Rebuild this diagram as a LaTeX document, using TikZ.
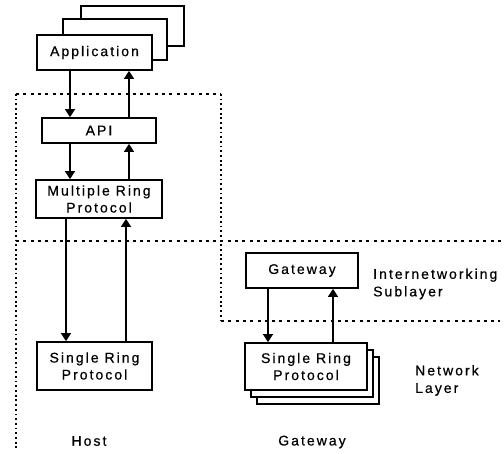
\documentclass[tikz,border=0pt]{standalone}
\usepackage{fontspec}
\setmainfont{Liberation Sans}[LetterSpace=14.5,FakeBold=0.6]
\usetikzlibrary{arrows.meta}
\begin{document}
\begin{tikzpicture}[x=1pt,y=-1pt,
  box/.style={draw, line width=1.7pt, fill=white, inner sep=0pt, align=center,
    font=\fontsize{14}{17}\selectfont},
  lbl/.style={inner sep=0pt, align=left, anchor=west, font=\fontsize{14}{17.5}\selectfont},
  clbl/.style={inner sep=0pt, font=\fontsize{14}{17}\selectfont},
  arr/.style={line width=1.3pt, -{Triangle[width=10pt,length=8pt]}},
  dsh/.style={line width=1.7pt, dash pattern=on 3pt off 4.3pt},
  dts/.style={line width=1.9pt, dash pattern=on 1.8pt off 2.9pt}]
\useasboundingbox (0,0) rectangle (504,454);
% region lines
\coordinate (tl) at (16,94);
\coordinate (tr) at (221,94);
\coordinate (bl) at (16,450);
\coordinate (ml) at (16,241);
\coordinate (mr) at (502,241);
\coordinate (lr) at (221,321);
\coordinate (le) at (500,321);
\draw[dsh] (tl) -- (tr);
\draw[dts] (tl) -- (bl);
\draw[dts] (tr) -- (lr);
\draw[dsh] (ml) -- (mr);
\draw[dsh] (lr) -- (le);
% host stack
\node[box, minimum width=103pt, minimum height=40pt] (app3) at (132.5,26) {};
\node[box, minimum width=104pt, minimum height=41pt] (app2) at (115,39.5) {};
\node[box, minimum width=115pt, minimum height=35pt] (app) at (94.5,52.5) {Application};
\node[box, minimum width=114pt, minimum height=25pt] (api) at (99,130.5) {API};
\node[box, minimum width=126pt, minimum height=38pt] (mrp) at (99,199) {Multiple Ring\\Protocol};
\node[box, minimum width=115pt, minimum height=48pt] (srph) at (94.5,366) {Single Ring\\Protocol};
% gateway stack
\node[box, minimum width=112pt, minimum height=35pt] (gw) at (302,270.5) {Gateway};
\node[box, minimum width=122pt, minimum height=47pt] (srpg3) at (318,380.5) {};
\node[box, minimum width=122pt, minimum height=47pt] (srpg2) at (312,373.5) {};
\node[box, minimum width=122pt, minimum height=47pt] (srpg) at (306,366.5) {Single Ring\\Protocol};
% arrow columns
\coordinate (d1) at (70,0);
\coordinate (u1) at (129,0);
\coordinate (d2) at (66,0);
\coordinate (u2) at (126,0);
\coordinate (d3) at (268,0);
\coordinate (u3) at (333,0);
\draw[arr] (app.south -| d1) -- (api.north -| d1);
\draw[arr] (api.north -| u1) -- (app.south -| u1);
\draw[arr] (api.south -| d1) -- (mrp.north -| d1);
\draw[arr] (mrp.north -| u1) -- (api.south -| u1);
\draw[arr] (mrp.south -| d2) -- (srph.north -| d2);
\draw[arr] (srph.north -| u2) -- (mrp.south -| u2);
\draw[arr] (gw.south -| d3) -- (srpg.north -| d3);
\draw[arr] (srpg.north -| u3) -- (gw.south -| u3);
% labels
\node[lbl] (inet) at (373,284) {Internetworking\\Sublayer};
\node[lbl] (netl) at (415,380.5) {Network\\Layer};
\node[clbl] (host) at (89,441) {Host};
\node[clbl] (gwl) at (312,442) {Gateway};
\end{tikzpicture}
\end{document}
